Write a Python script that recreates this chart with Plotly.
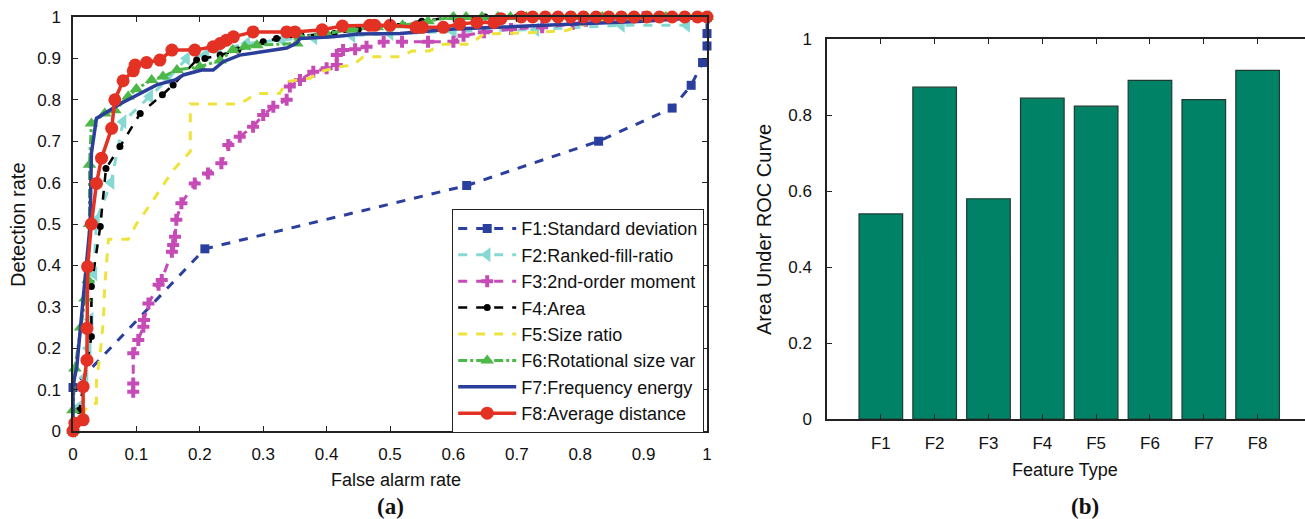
import plotly.graph_objects as go

W, H = 1305, 519

# ---------------- ROC data (False alarm rate, Detection rate) ----------------
f1_x = [0, 0, 0.208, 0.621, 0.829, 0.945, 0.975, 0.993, 1.0, 1.0, 1.0]
f1_y = [0, 0.105, 0.44, 0.593, 0.70, 0.78, 0.835, 0.89, 0.93, 0.96, 1.0]

f2_x = [0, 0.005, 0.011, 0.019, 0.024, 0.027, 0.033, 0.037, 0.06, 0.079, 0.121, 0.15, 0.179, 0.21, 0.274,
        0.33, 0.38, 0.44, 0.5, 0.6, 0.73, 0.865, 0.968, 1.0]
f2_y = [0, 0.02, 0.06, 0.13, 0.2, 0.27, 0.38, 0.51, 0.6, 0.747, 0.808, 0.85, 0.9, 0.91, 0.936,
        0.945, 0.95, 0.955, 0.96, 0.965, 0.97, 0.98, 0.98, 1.0]

f3_x = [0.095, 0.095, 0.095, 0.103, 0.111, 0.112, 0.119, 0.135, 0.14, 0.156, 0.158, 0.161, 0.163, 0.171,
        0.192, 0.213, 0.234, 0.245, 0.263, 0.284, 0.30, 0.316, 0.337, 0.342, 0.358, 0.379, 0.40, 0.416,
        0.416, 0.426, 0.445, 0.463, 0.49, 0.519, 0.56, 0.60, 0.616, 0.648, 0.691, 0.74, 0.788, 0.809,
        0.9, 1.0]
f3_y = [0.095, 0.115, 0.188, 0.22, 0.252, 0.268, 0.308, 0.353, 0.365, 0.433, 0.449, 0.469, 0.51, 0.55,
        0.598, 0.622, 0.647, 0.691, 0.711, 0.735, 0.763, 0.783, 0.80, 0.832, 0.848, 0.868, 0.876, 0.884,
        0.908, 0.92, 0.922, 0.928, 0.94, 0.94, 0.94, 0.94, 0.955, 0.963, 0.971, 0.975, 0.983, 0.991,
        1.0, 1.0]

f4_x = [0, 0.01, 0.029, 0.029, 0.043, 0.052, 0.074, 0.106, 0.141, 0.158, 0.195, 0.208, 0.232, 0.26,
        0.30, 0.321, 0.36, 0.412, 0.45, 0.5, 0.55, 0.6, 0.65, 0.7, 1.0]
f4_y = [0, 0.05, 0.228, 0.349, 0.494, 0.634, 0.687, 0.767, 0.812, 0.836, 0.896, 0.90, 0.908, 0.92,
        0.94, 0.948, 0.955, 0.96, 0.97, 0.98, 0.99, 1.0, 1.0, 1.0, 1.0]

f5_x = [0, 0.024, 0.037, 0.037, 0.043, 0.048, 0.05, 0.056, 0.087, 0.10, 0.116, 0.158, 0.185, 0.185,
        0.263, 0.29, 0.326, 0.337, 0.374, 0.39, 0.421, 0.442, 0.458, 0.516, 0.535, 0.562, 0.584, 0.626,
        0.648, 0.734, 0.777, 0.809, 0.82, 1.0]
f5_y = [0, 0.063, 0.067, 0.12, 0.188, 0.268, 0.349, 0.463, 0.463, 0.50, 0.534, 0.63, 0.675, 0.79,
        0.79, 0.815, 0.815, 0.844, 0.852, 0.868, 0.88, 0.884, 0.904, 0.904, 0.918, 0.918, 0.934, 0.934,
        0.959, 0.963, 0.967, 0.983, 0.992, 1.0]

f6_x = [0, 0, 0.003, 0.012, 0.019, 0.024, 0.026, 0.026, 0.029, 0.05, 0.066, 0.087, 0.1, 0.124, 0.142,
        0.164, 0.2, 0.232, 0.252, 0.271, 0.29, 0.353, 0.358, 0.4, 0.44, 0.48, 0.52, 0.56, 0.6, 0.62,
        0.645, 0.67, 0.69, 0.715, 0.74, 0.765, 0.79, 0.81, 0.835, 0.86, 0.885, 0.91, 0.935, 0.96, 0.98, 1.0]
f6_y = [0, 0.05, 0.151, 0.25, 0.32, 0.365, 0.5, 0.643, 0.743, 0.767, 0.775, 0.808, 0.826, 0.848, 0.856,
        0.872, 0.88, 0.895, 0.92, 0.928, 0.932, 0.936, 0.952, 0.96, 0.97, 0.975, 0.98, 0.99, 1.0, 1.0,
        1.0, 1.0, 1.0, 1.0, 1.0, 1.0, 1.0, 1.0, 1.0, 1.0, 1.0, 1.0, 1.0, 1.0, 1.0, 1.0]

f7_x = [0, 0, 0.006, 0.027, 0.029, 0.037, 0.074, 0.106, 0.132, 0.161, 0.174, 0.203, 0.221, 0.237,
        0.263, 0.337, 0.353, 0.358, 0.41, 0.45, 0.516, 0.6, 0.745, 0.8, 0.9, 1.0]
f7_y = [0, 0.11, 0.155, 0.498, 0.671, 0.755, 0.79, 0.815, 0.836, 0.848, 0.86, 0.872, 0.872, 0.892,
        0.908, 0.925, 0.937, 0.948, 0.952, 0.959, 0.96, 0.971, 0.98, 0.985, 0.99, 1.0]

f8_x = [0, 0.003, 0.016, 0.016, 0.022, 0.022, 0.023, 0.029, 0.037, 0.045, 0.061, 0.066, 0.079, 0.095,
        0.098, 0.116, 0.137, 0.156, 0.192, 0.221, 0.232, 0.242, 0.253, 0.284, 0.337, 0.35, 0.393, 0.425,
        0.468, 0.476, 0.50, 0.541, 0.551, 0.584, 0.61, 0.637, 0.664, 0.675, 0.707, 0.725, 0.745, 0.765,
        0.785, 0.805, 0.825, 0.845, 0.865, 0.885, 0.905, 0.925, 0.945, 0.965, 0.985, 1.0]
f8_y = [0, 0.019, 0.027, 0.107, 0.171, 0.248, 0.397, 0.50, 0.598, 0.659, 0.731, 0.80, 0.846, 0.87,
        0.884, 0.89, 0.896, 0.92, 0.92, 0.928, 0.936, 0.944, 0.952, 0.964, 0.964, 0.964, 0.969, 0.978,
        0.98, 0.98, 0.98, 0.975, 0.975, 0.975, 0.983, 0.987, 0.987, 0.996, 1.0, 1.0, 1.0, 1.0,
        1.0, 1.0, 1.0, 1.0, 1.0, 1.0, 1.0, 1.0, 1.0, 1.0, 1.0, 1.0]

# ---------------- AUC bar data ----------------
features = ["F1", "F2", "F3", "F4", "F5", "F6", "F7", "F8"]
auc = [0.540, 0.874, 0.580, 0.845, 0.824, 0.892, 0.841, 0.918]

roc_names = ["F1:Standard deviation", "F2:Ranked-fill-ratio", "F3:2nd-order moment", "F4:Area",
             "F5:Size ratio", "F6:Rotational size var", "F7:Frequency energy", "F8:Average distance"]
roc_ticks = [round(i * 0.1, 1) for i in range(11)]
roc_ticktext = ["0", "0.1", "0.2", "0.3", "0.4", "0.5", "0.6", "0.7", "0.8", "0.9", "1"]
auc_ticks = [0, 0.2, 0.4, 0.6, 0.8, 1.0]
auc_ticktext = ["0", "0.2", "0.4", "0.6", "0.8", "1"]

FONT = "Liberation Sans, Arial, sans-serif"
SERIF = "Liberation Serif, Times New Roman, serif"

styles = [
    dict(x=f1_x, y=f1_y, color="#2B3F9E", dash="dash", symbol="square", size=9, mode="lines+markers", width=3),
    dict(x=f2_x, y=f2_y, color="#86D9D2", dash="dash", symbol="triangle-left", size=13, mode="lines+markers", width=3),
    dict(x=f3_x, y=f3_y, color="#C64BB6", dash="dash", symbol="cross", size=10, mode="lines+markers", width=3),
    dict(x=f4_x, y=f4_y, color="#000000", dash="dash", symbol="circle", size=7, mode="lines+markers", width=2.5),
    dict(x=f5_x, y=f5_y, color="#EEE33C", dash="dash", symbol="circle", size=1, mode="lines", width=3),
    dict(x=f6_x, y=f6_y, color="#4CB848", dash="dashdot", symbol="triangle-up", size=12, mode="lines+markers", width=3),
    dict(x=f7_x, y=f7_y, color="#2A3E9A", dash="solid", symbol="circle", size=1, mode="lines", width=3.5),
    dict(x=f8_x, y=f8_y, color="#E33124", dash="solid", symbol="circle", size=13, mode="lines+markers", width=3.5),
]

fig = go.Figure()
for name, s in zip(roc_names, styles):
    tr = go.Scatter(
        x=s["x"], y=s["y"], name=name, mode=s["mode"], xaxis="x", yaxis="y",
        line=dict(color=s["color"], dash=s["dash"], width=s["width"]),
        cliponaxis=False,
    )
    if "markers" in s["mode"]:
        tr.marker = dict(symbol=s["symbol"], size=s["size"], color=s["color"], line=dict(width=0))
    fig.add_trace(tr)

fig.add_trace(go.Bar(
    x=list(range(1, len(features) + 1)), y=auc, xaxis="x2", yaxis="y2", showlegend=False,
    width=0.81, marker=dict(color="#008266", line=dict(color="#1E3B33", width=1.2)),
))

def px_x(p):
    return p / W

def px_y(p):
    return 1 - p / H

axis_common = dict(showgrid=False, zeroline=False, showline=True, linecolor="#222222", linewidth=1.5,
                   ticks="inside", ticklen=5, tickcolor="#222222", tickwidth=1, automargin=False,
                   tickfont=dict(family=FONT, size=17, color="#111111"))

fig.update_layout(
    template="none",
    width=W, height=H, margin=dict(l=0, r=0, t=0, b=0, autoexpand=False),
    paper_bgcolor="white", plot_bgcolor="white",
    font=dict(family=FONT, size=16, color="#111111"),
    xaxis=dict(domain=[px_x(73), px_x(707)], range=[0, 1], tickvals=roc_ticks, ticktext=roc_ticktext,
               mirror="ticks", anchor="y", ticklabelstandoff=7, **axis_common),
    yaxis=dict(domain=[px_y(431), px_y(17)], range=[0, 1], tickvals=roc_ticks, ticktext=roc_ticktext,
               mirror="ticks", anchor="x", ticklabelstandoff=7, **axis_common),
    xaxis2=dict(domain=[px_x(827), 1.0], range=[0, 8.88], tickvals=list(range(1, len(features) + 1)),
                ticktext=features, mirror="ticks", anchor="y2", ticklabelstandoff=8, **axis_common),
    yaxis2=dict(domain=[px_y(419), px_y(39.3)], range=[0, 1], tickvals=auc_ticks, ticktext=auc_ticktext,
                mirror=False, anchor="x2", ticklabelstandoff=10, **axis_common),
    legend=dict(x=px_x(704), y=px_y(433), xanchor="right", yanchor="bottom",
                bgcolor="white", bordercolor="#222222", borderwidth=1.2,
                font=dict(family=FONT, size=18, color="#111111"), itemwidth=58, tracegroupgap=0),
    showlegend=True,
)

annots = [
    dict(text="Detection rate", x=px_x(18), y=px_y(225), textangle=-90, size=20, fam=FONT),
    dict(text="False alarm rate", x=px_x(396), y=px_y(480), textangle=0, size=18, fam=FONT),
    dict(text="<b>(a)</b>", x=px_x(390), y=px_y(506), textangle=0, size=23, fam=SERIF),
    dict(text="Area Under ROC Curve", x=px_x(764), y=px_y(230), textangle=-90, size=20, fam=FONT),
    dict(text="Feature Type", x=px_x(1065), y=px_y(470), textangle=0, size=18, fam=FONT),
    dict(text="<b>(b)</b>", x=px_x(1085), y=px_y(506), textangle=0, size=23, fam=SERIF),
]
for a in annots:
    fig.add_annotation(text=a["text"], x=a["x"], y=a["y"], xref="paper", yref="paper",
                       xanchor="center", yanchor="middle", showarrow=False, textangle=a["textangle"],
                       font=dict(family=a["fam"], size=a["size"], color="#111111"))

fig.write_html("out.html")
